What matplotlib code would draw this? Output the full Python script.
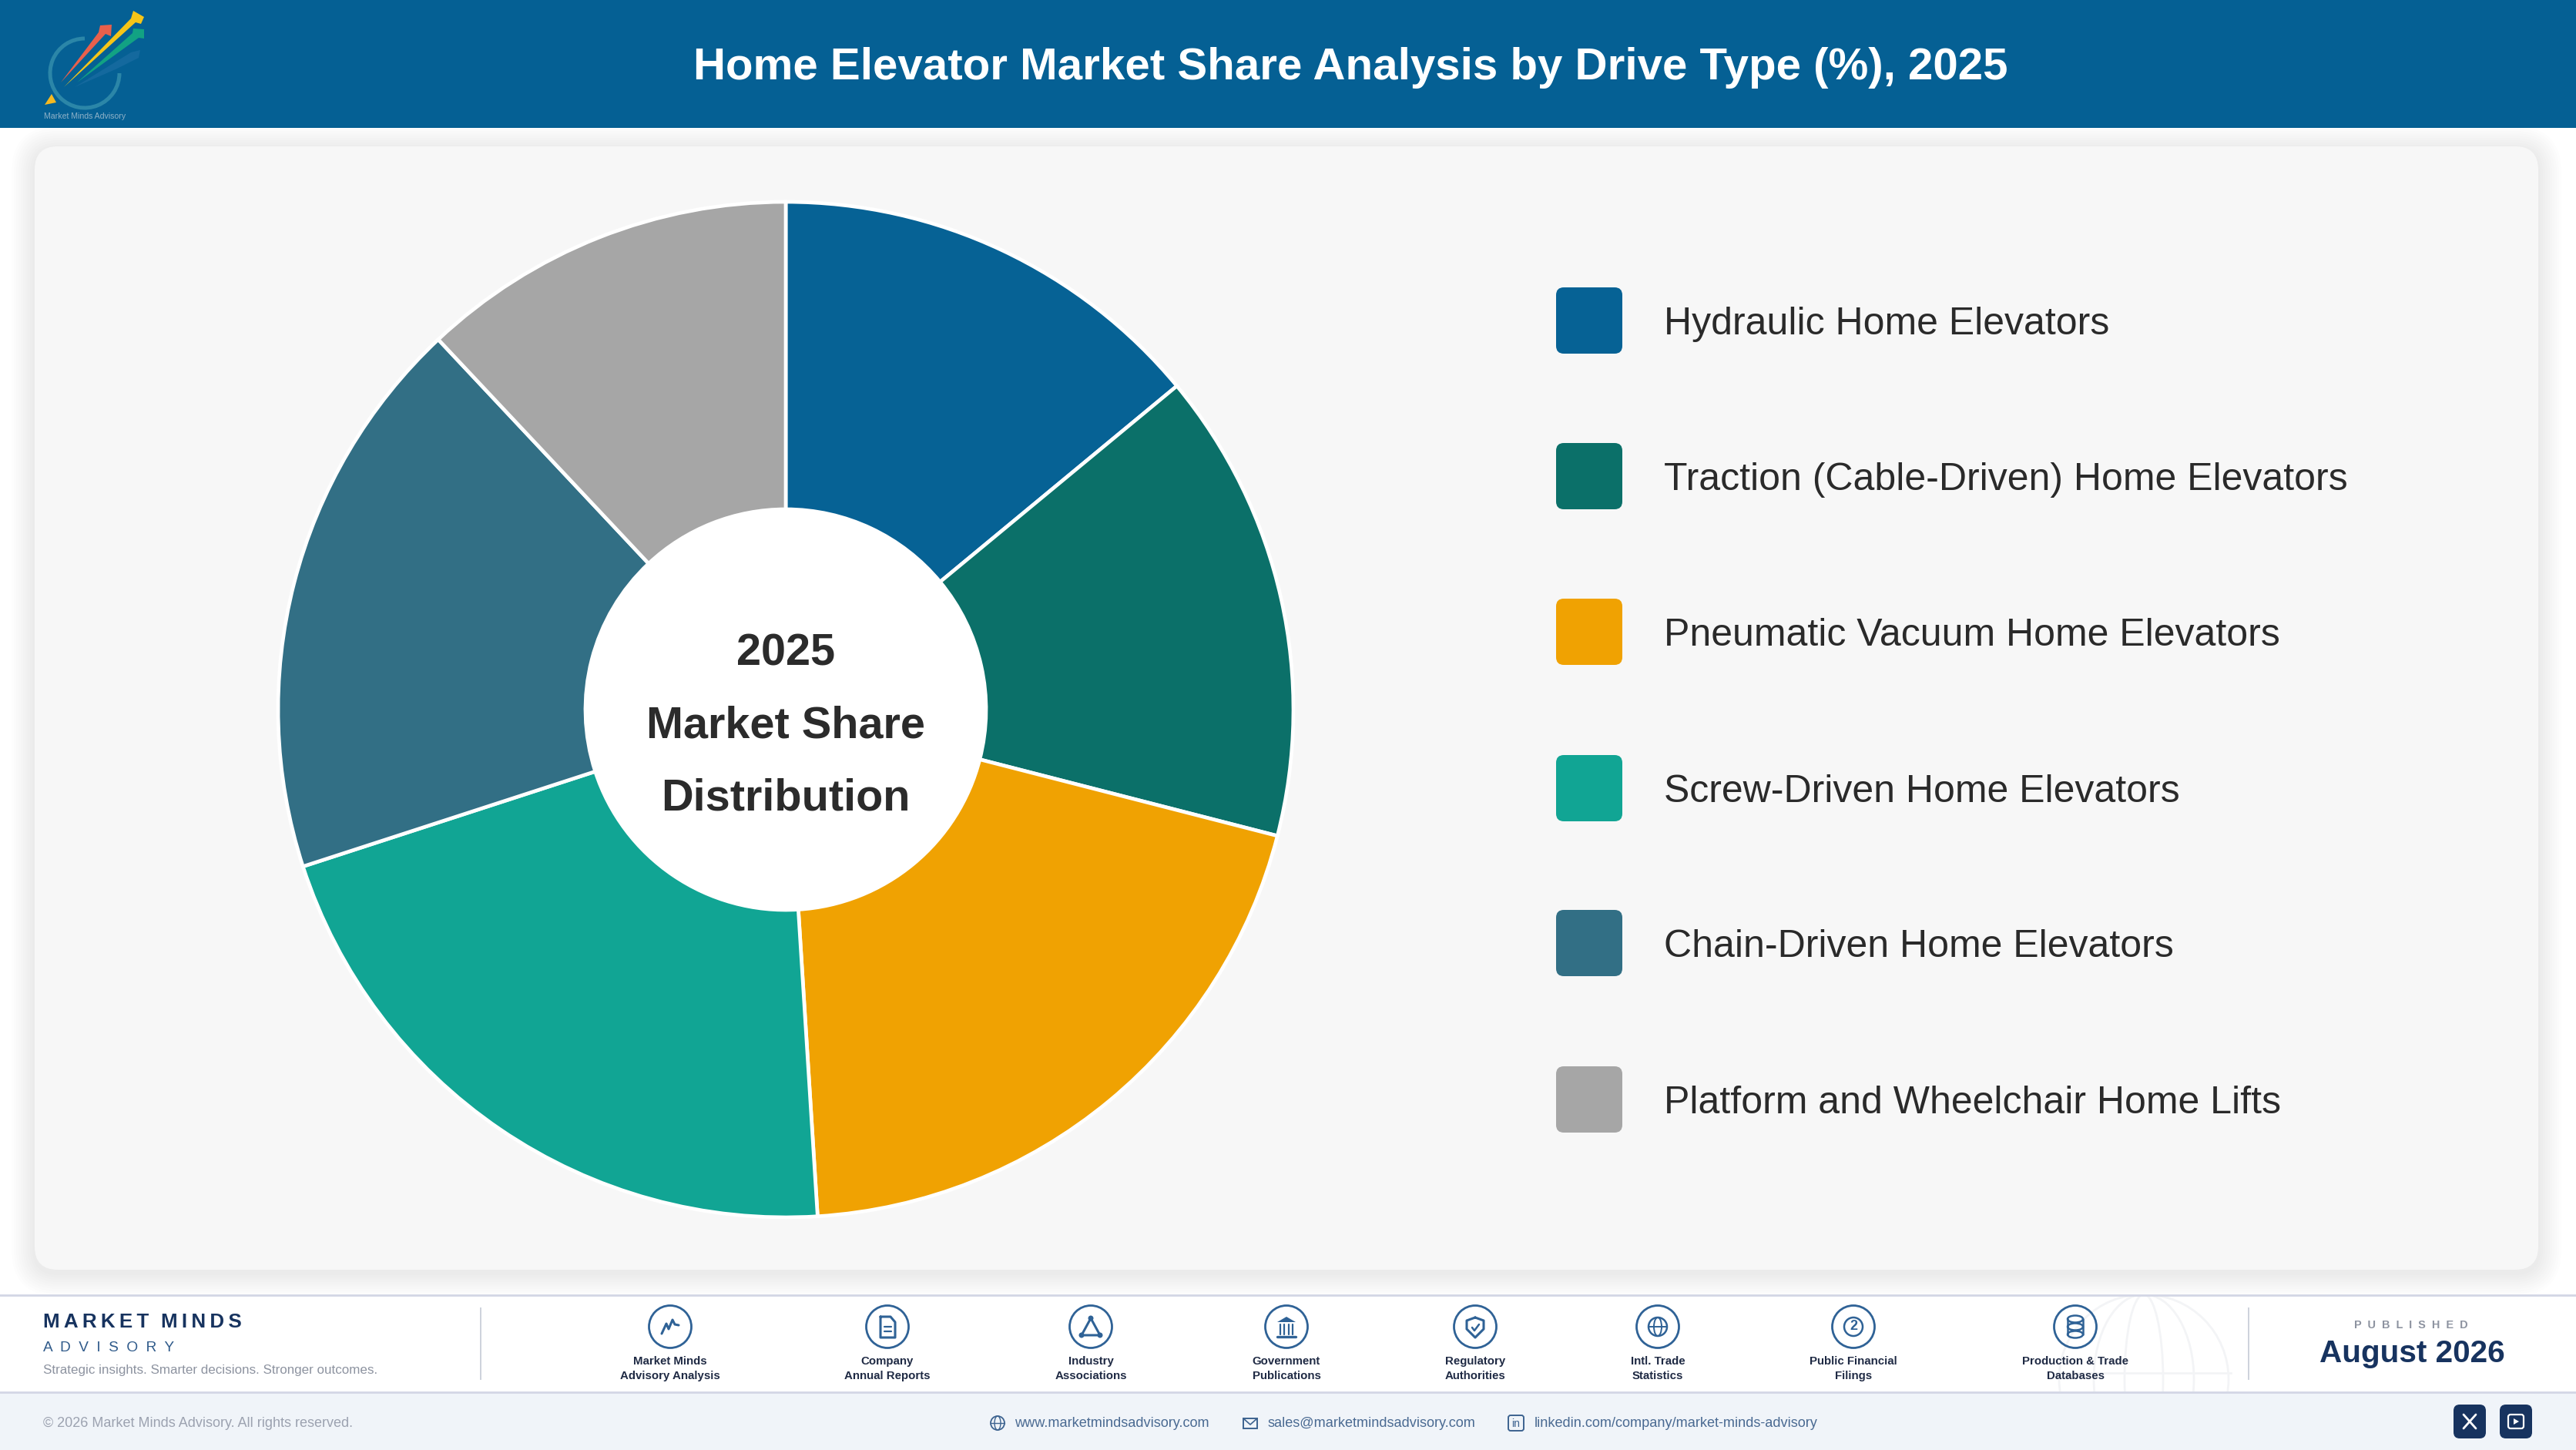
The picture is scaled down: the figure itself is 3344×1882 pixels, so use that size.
"""
Home elevator market share donut, with the report header and footer.
Page furniture is drawn on a full-figure axes in pixel coordinates.
"""

import matplotlib

matplotlib.use("Agg")
import matplotlib.pyplot as plt
from matplotlib.patches import Circle, Ellipse, FancyBboxPatch, Polygon, Rectangle, Arc

# =============================================================================
# Data
# =============================================================================
DRIVE_TYPES = [
    "Hydraulic Home Elevators",
    "Traction (Cable-Driven) Home Elevators",
    "Pneumatic Vacuum Home Elevators",
    "Screw-Driven Home Elevators",
    "Chain-Driven Home Elevators",
    "Platform and Wheelchair Home Lifts",
]
SHARES = [14, 15, 20, 21, 18, 12]
CENTER_LINES = ["2025", "Market Share", "Distribution"]
SOURCES = [
    "Market Minds\nAdvisory Analysis",
    "Company\nAnnual Reports",
    "Industry\nAssociations",
    "Government\nPublications",
    "Regulatory\nAuthorities",
    "Intl. Trade\nStatistics",
    "Public Financial\nFilings",
    "Production & Trade\nDatabases",
]

# =============================================================================
# Configuration
# =============================================================================
W, H = 3344, 1882
COLORS = ["#066295", "#0B7069", "#F0A202", "#11A594", "#326F85", "#A6A6A6"]
HEADER = "#056094"
NAVY = "#17335F"
ICON = "#2F6296"
PX = 0.72  # font points per image pixel at dpi 100

PIE_X, PIE_Y, PIE_R, HOLE_R = 1020, 921, 659, 260
PIE_BOX = 675  # half size of the donut axes, leaves room for the white edge
LEGEND_Y = [416, 618, 820, 1023, 1224, 1427]
SOURCE_X = [870, 1152, 1416, 1670, 1915, 2152, 2406, 2694]

plt.rcParams["font.family"] = ["Liberation Sans", "DejaVu Sans"]

fig = plt.figure(figsize=(W / 100, H / 100), dpi=100, facecolor="white")
page = fig.add_axes([0, 0, 1, 1])
page.set_xlim(0, W)
page.set_ylim(H, 0)
page.axis("off")


def label(x, y, s, size, color="#222222", weight="normal", ha="left", va="center", **kw):
    page.text(x, y, s, fontsize=size * PX, color=color, weight=weight, ha=ha, va=va, **kw)


def round_box(x0, y0, x1, y1, r, **kw):
    page.add_patch(FancyBboxPatch((x0 + r, y0 + r), x1 - x0 - 2 * r, y1 - y0 - 2 * r,
                                  boxstyle=f"round,pad={r},rounding_size={r}", **kw))


def stroke(xs, ys, color=ICON, lw=2.2):
    page.plot(xs, ys, color=color, lw=lw, solid_capstyle="round", solid_joinstyle="round")


# =============================================================================
# Header, panel
# =============================================================================
page.add_patch(Rectangle((0, 0), W, 166, color=HEADER, lw=0))
label(1753, 103, "Home Elevator Market Share Analysis by Drive Type (%), 2025", 58.3,
      color="white", weight="bold", ha="center", va="baseline")

# logo
page.add_patch(Arc((110, 95), 90, 90, theta1=0, theta2=270, color="#2B86A8", lw=3.6))
page.add_patch(Polygon([(79, 107), (128, 42), (130, 33), (145, 32), (144, 47), (137, 44)],
                       color="#E8604C", lw=0))
page.add_patch(Polygon([(83, 113), (170, 24), (173, 14), (187, 22), (183, 31), (176, 29)],
                       color="#F5C518", lw=0))
page.add_patch(Polygon([(100, 107), (172, 43), (173, 37), (187, 38), (187, 50), (180, 49)],
                       color="#12A283", lw=0))
page.add_patch(Polygon([(97, 113), (170, 68), (182, 65), (180, 75), (150, 90)],
                       color="#14699E", lw=0))
page.add_patch(Polygon([(58, 136), (67, 122), (73, 133)], color="#F5B921", lw=0))
label(110, 151, "Market Minds Advisory", 10.5, color="#8FB2C8", ha="center")

# soft shadow, then the panel
for grow in range(30, 0, -3):
    round_box(45 - grow, 190 - grow + 4, 3295 + grow, 1648 + grow + 4, 30 + grow,
              facecolor="black", edgecolor="none", alpha=0.006)
round_box(45, 190, 3295, 1648, 30, facecolor="#F7F7F7", edgecolor="none")

# =============================================================================
# Donut
# =============================================================================
ax = fig.add_axes([(PIE_X - PIE_BOX) / W, (H - PIE_Y - PIE_BOX) / H, 2 * PIE_BOX / W, 2 * PIE_BOX / H])
ax.pie(
    SHARES,
    colors=COLORS,
    startangle=90,
    counterclock=False,
    radius=1,
    wedgeprops={"width": 1 - HOLE_R / PIE_R, "edgecolor": "white", "linewidth": 3.4},
)
ax.set_xlim(-PIE_BOX / PIE_R, PIE_BOX / PIE_R)
ax.set_ylim(-PIE_BOX / PIE_R, PIE_BOX / PIE_R)
ax.add_patch(Circle((0, 0), HOLE_R / PIE_R, color="white", lw=0, zorder=5))
for line, y in zip(CENTER_LINES, [864, 958, 1052]):
    ax.text(0, (PIE_Y - y) / PIE_R, line, ha="center", va="baseline",
            weight="bold", fontsize=57.6 * PX, color="#2B2B2B", zorder=6)

# =============================================================================
# Legend
# =============================================================================
for name, color, y in zip(DRIVE_TYPES, COLORS, LEGEND_Y):
    round_box(2020, y - 43, 2106, y + 43, 10, facecolor=color, edgecolor="none")
    label(2160, y + 18, name, 50, color="#2A2A2A", va="baseline")

# =============================================================================
# Footer
# =============================================================================
page.add_patch(Rectangle((0, 1681), W, 126, color="white", lw=0))
page.add_patch(Rectangle((0, 1807), W, 75, color="#F0F4F9", lw=0))

# faint globe behind the last sources
band = Rectangle((0, 1682), W, 124, transform=page.transData)
for patch in [Circle((2783, 1790), 110), Ellipse((2783, 1790), 130, 220), Ellipse((2783, 1790), 50, 220)]:
    patch.set(fill=False, edgecolor="#F3F4F6", lw=2)
    page.add_patch(patch)
    patch.set_clip_path(band)
page.plot([2670, 2896], [1782, 1782], color="#F3F4F6", lw=2)

for y in (1681, 1807):
    page.plot([0, W], [y, y], color="#D3D6E5", lw=2)
for x in (624, 2919):
    page.plot([x, x], [1698, 1790], color="#CDD2DC", lw=1.4)

label(56, 1716, "M\u2009A\u2009R\u2009K\u2009E\u2009T\u2009\u2009\u2009M\u2009I\u2009N\u2009D\u2009S", 26,
      color=NAVY, weight="bold")
label(56, 1749, "A  D  V  I  S  O  R  Y", 19, color="#2F5A8A")
label(56, 1778, "Strategic insights. Smarter decisions. Stronger outcomes.", 17, color="#8D93A0")

for text, x in zip(SOURCES, SOURCE_X):
    page.add_patch(Circle((x, 1722), 27.5, fill=False, edgecolor=ICON, lw=2))
    first, second = text.split("\n")
    label(x, 1767, first, 15, color="#1F2A44", weight="bold", ha="center")
    label(x, 1786, second, 15, color="#1F2A44", weight="bold", ha="center")

# source icons
x = SOURCE_X[0]
stroke([x - 11, x - 5, x - 2, x + 3, x + 6, x + 11], [1731, 1718, 1725, 1713, 1719, 1720])
x = SOURCE_X[1]
stroke([x - 9, x + 4, x + 10, x + 10, x - 9, x - 9], [1709, 1709, 1716, 1736, 1736, 1709])
for dy in (1722, 1728):
    stroke([x - 4, x + 5], [dy, dy], lw=1.6)
x = SOURCE_X[2]
stroke([x, x - 12, x + 12, x], [1711, 1733, 1733, 1711])
page.add_patch(Circle((x, 1711), 3.5, color=ICON, lw=0))
page.add_patch(Circle((x - 12, 1733), 3.5, color=ICON, lw=0))
page.add_patch(Circle((x + 12, 1733), 3.5, color=ICON, lw=0))
x = SOURCE_X[3]
page.add_patch(Polygon([(x - 12, 1716), (x, 1709), (x + 12, 1716)], color=ICON, lw=0))
for dx in (-8, -3, 3, 8):
    stroke([x + dx, x + dx], [1719, 1732], lw=1.6)
stroke([x - 12, x + 12], [1735, 1735], lw=2.4)
x = SOURCE_X[4]
stroke([x, x + 11, x + 11, x, x - 11, x - 11, x], [1710, 1714, 1725, 1736, 1725, 1714, 1710])
stroke([x - 4, x - 1, x + 5], [1723, 1727, 1719], lw=1.8)
x = SOURCE_X[5]
page.add_patch(Circle((x, 1722), 12, fill=False, edgecolor=ICON, lw=1.8))
page.add_patch(Ellipse((x, 1722), 10, 24, fill=False, edgecolor=ICON, lw=1.4))
stroke([x - 12, x + 12], [1722, 1722], lw=1.4)
x = SOURCE_X[6]
page.add_patch(Circle((x, 1722), 12, fill=False, edgecolor=ICON, lw=1.8))
label(x, 1722, "2", 18, color=ICON, weight="bold", ha="center")
x = SOURCE_X[7]
for dy in (1712, 1722, 1732):
    page.add_patch(Ellipse((x, dy), 20, 9, fill=False, edgecolor=ICON, lw=1.8))
stroke([x - 10, x - 10], [1712, 1732], lw=1.8)
stroke([x + 10, x + 10], [1712, 1732], lw=1.8)

label(3130, 1720, "P  U  B  L  I  S  H  E  D", 14.5, color="#8D93A0", weight="bold", ha="center")
label(3131, 1757, "August 2026", 40.5, color=NAVY, weight="bold", ha="center")

# bottom strip
label(56, 1847, "\u00a9 2026 Market Minds Advisory. All rights reserved.", 18, color="#9CA2B0")
label(1317, 1847, "www.marketmindsadvisory.com", 18.1, color="#4A6A92")
label(1646, 1847, "sales@marketmindsadvisory.com", 18.1, color="#4A6A92")
label(1992, 1847, "linkedin.com/company/market-minds-advisory", 18.1, color="#4A6A92")

page.add_patch(Circle((1295, 1847), 9, fill=False, edgecolor="#3D6390", lw=1.3))
page.add_patch(Ellipse((1295, 1847), 8, 18, fill=False, edgecolor="#3D6390", lw=1))
stroke([1286, 1304], [1847, 1847], color="#3D6390", lw=1)
page.add_patch(Rectangle((1614, 1841), 18, 13, fill=False, edgecolor="#3D6390", lw=1.4))
stroke([1614, 1623, 1632], [1841, 1849, 1841], color="#3D6390", lw=1.2)
round_box(1958, 1837, 1978, 1857, 3, fill=False, edgecolor="#3D6390", lw=1.4)
label(1968, 1848, "in", 14, color="#3D6390", ha="center")

round_box(3185, 1823, 3227, 1867, 8, facecolor=NAVY, edgecolor="none")
round_box(3245, 1823, 3287, 1867, 8, facecolor=NAVY, edgecolor="none")
stroke([3198, 3214], [1836, 1854], color="white", lw=2)
stroke([3214, 3198], [1836, 1854], color="white", lw=2)
round_box(3256, 1836, 3276, 1854, 3, fill=False, edgecolor="white", lw=1.6)
page.add_patch(Polygon([(3263, 1841), (3270, 1845), (3263, 1849)], color="white", lw=0))

plt.savefig("out.png", dpi=100, facecolor="white")
plt.close()
